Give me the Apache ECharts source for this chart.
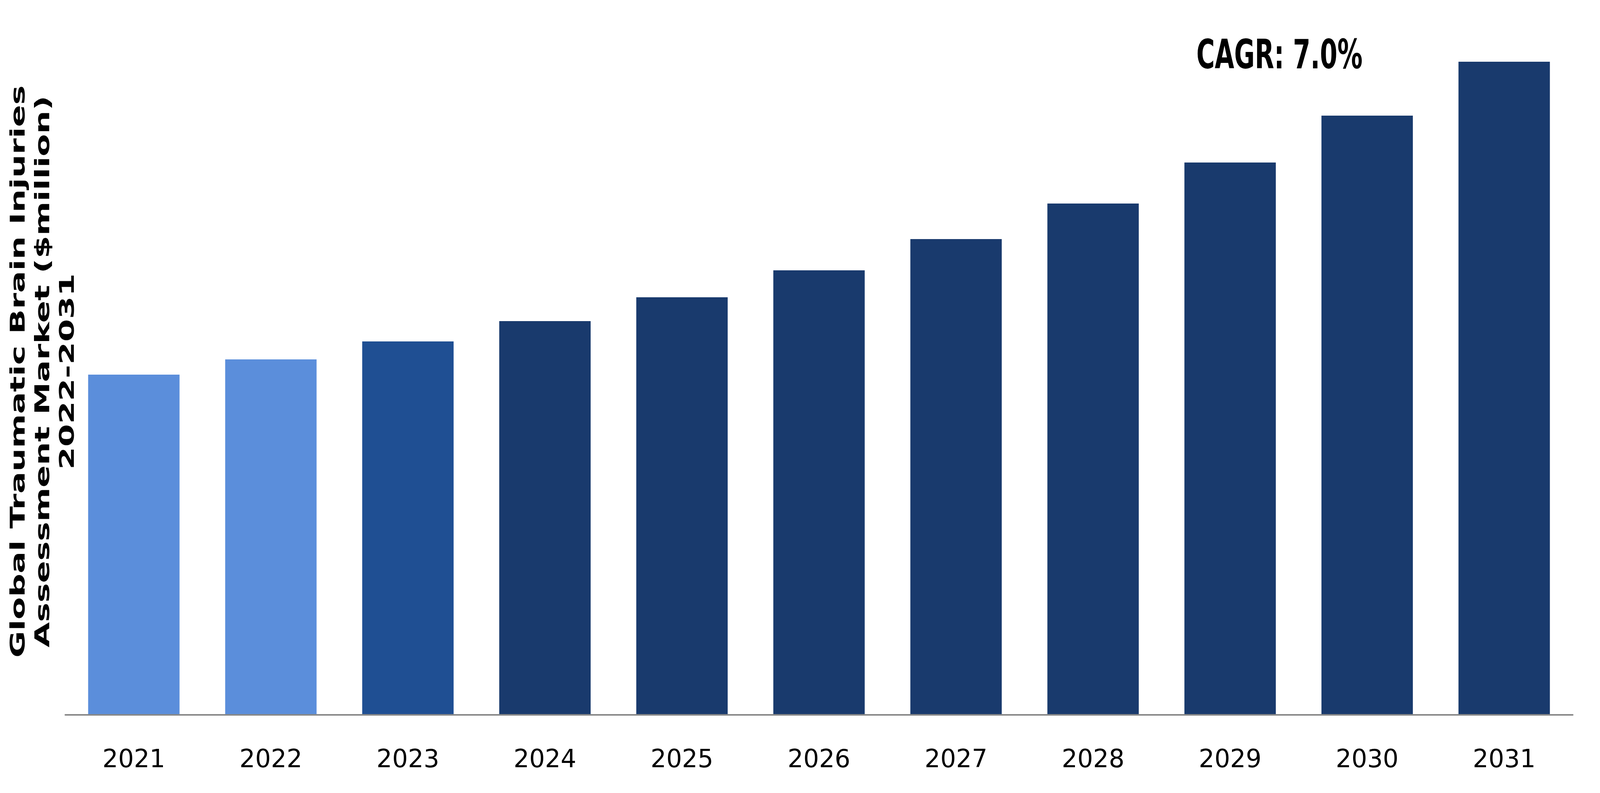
<!DOCTYPE html>
<html>
<head>
<meta charset="utf-8">
<title>Global Traumatic Brain Injuries Assessment Market</title>
<script src="https://cdn.jsdelivr.net/npm/echarts@6/dist/echarts.min.js"></script>
<style>
  html, body { margin: 0; padding: 0; background: #fff; overflow: hidden; }
  #chart { width: 100vw; height: 100vh; }
</style>
</head>
<body>
<div id="chart"></div>
<script>
// data ($million, estimated)
var years = ['2021', '2022', '2023', '2024', '2025', '2026', '2027', '2028', '2029', '2030', '2031'];
var marketSize = [87.1, 91.0, 95.6, 100.8, 106.9, 113.8, 121.8, 130.9, 141.4, 153.4, 167.2];
var cagrText = 'CAGR: 7.0%';
var yTitle = 'Global Traumatic Brain Injuries\nAssessment Market ($million)\n2022-2031';

// historic / base / forecast shades
var barColors = ['#5B8EDB', '#5B8EDB', '#1F4F93', '#193A6D', '#193A6D', '#193A6D',
                 '#193A6D', '#193A6D', '#193A6D', '#193A6D', '#193A6D'];

var chart = echarts.init(document.getElementById('chart'));

// layout was measured on a 6564 x 2030 canvas, scale it to the real one
var sx = chart.getWidth() / 6564;
var sy = chart.getHeight() / 2030;
var s = Math.sqrt(sx * sy);

var option = {
    backgroundColor: '#ffffff',
    animation: false,
    grid: {
        left: 268 * sx,
        right: 112 * sx,
        top: 80 * sy,
        bottom: 200 * sy
    },
    xAxis: {
        type: 'category',
        data: years,
        z: 10,
        axisLine: { show: true, lineStyle: { color: '#888888', width: 4 * sy } },
        axisTick: { show: false },
        axisLabel: {
            margin: 66 * sy + 40 * (sy - s) + 12 * sy,
            color: '#000000',
            fontFamily: 'DejaVu Sans',
            fontSize: 80 * s
        }
    },
    yAxis: {
        type: 'value',
        min: 0,
        max: 175,
        show: false,
        splitLine: { show: false }
    },
    series: [
        {
            type: 'bar',
            barCategoryGap: '33.3%',
            data: marketSize.map(function (v, i) {
                return { value: v, itemStyle: { color: barColors[i] } };
            })
        }
    ],
    graphic: [
        {
            // rotated: local x runs along the screen y axis
            type: 'text',
            x: 180 * sx,
            y: 951 * sy,
            rotation: Math.PI / 2,
            scaleX: sy,
            scaleY: sx,
            style: {
                text: yTitle,
                font: 'bold 84px "DejaVu Sans"',
                fill: '#000000',
                textAlign: 'center',
                textVerticalAlign: 'middle',
                lineHeight: 101
            }
        },
        {
            type: 'text',
            x: 5249 * sx,
            y: 148 * sy,
            scaleX: sx,
            scaleY: sy,
            style: {
                text: cagrText,
                font: 'bold 103px "DejaVu Sans"',
                fill: '#000000',
                textAlign: 'center',
                textVerticalAlign: 'middle'
            }
        }
    ]
};

chart.setOption(option);
</script>
</body>
</html>
